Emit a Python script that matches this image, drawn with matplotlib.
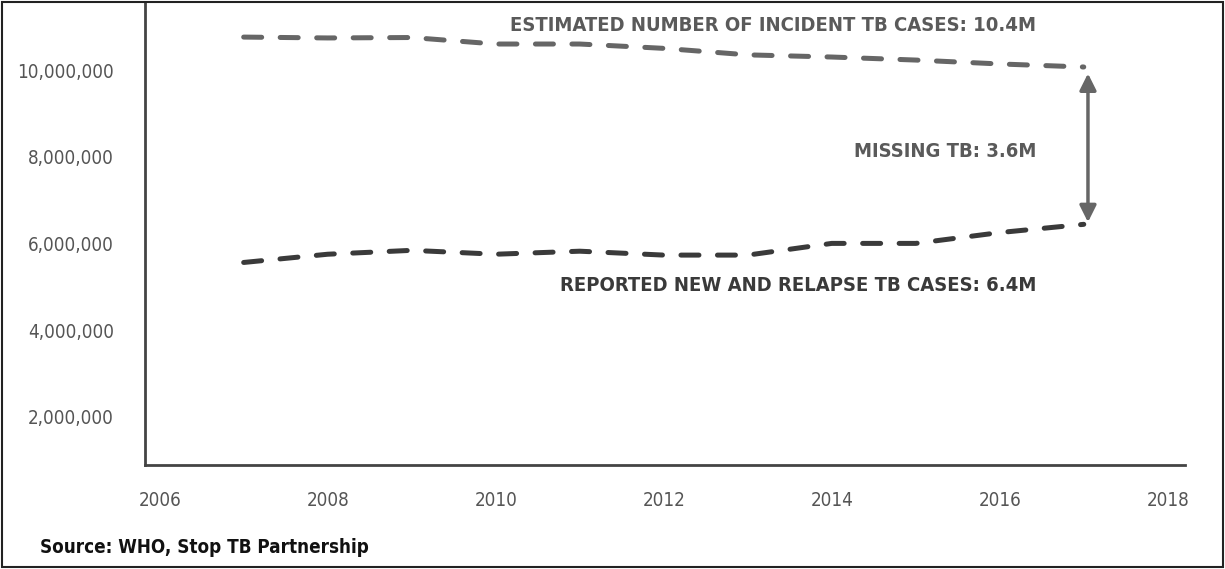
import numpy as np
import matplotlib.pyplot as plt
from matplotlib.patches import Rectangle

years = [2007, 2008, 2009, 2010, 2011, 2012, 2013, 2014, 2015, 2016, 2017]
estimated = [10760000, 10740000, 10750000, 10600000, 10600000, 10500000,
             10350000, 10300000, 10230000, 10140000, 10070000]
reported = [5560000, 5750000, 5840000, 5750000, 5820000, 5730000,
            5730000, 6000000, 6000000, 6250000, 6440000]
yticks = [2000000, 4000000, 6000000, 8000000, 10000000]
xticks = [2006, 2008, 2010, 2012, 2014, 2016, 2018]

fam = ['DejaVu Sans']

fig = plt.figure(figsize=(12.25, 5.69), dpi=100)
ax = fig.add_axes([0.118, 0.183, 0.849, 0.812])

ax.plot(years, estimated, color='#666666', lw=3.6, ls=(0, (3.6, 3.7)),
        dash_capstyle='round')
ax.plot(years, reported, color='#3a3a3a', lw=3.6, ls=(0, (3.6, 3.7)),
        dash_capstyle='round')

# gap arrow
ax.annotate('', xy=(2017.05, estimated[-1] - 150000), xytext=(2017.05, reported[-1] + 50000),
            arrowprops=dict(arrowstyle='<|-|>', color='#666666', lw=2.5,
                            mutation_scale=25, shrinkA=0, shrinkB=0))

kw = dict(ha='right', va='center', fontsize=14.5, fontweight='bold', family=fam,
          fontstretch='condensed')
ax.text(2016.43, 11030000, 'ESTIMATED NUMBER OF INCIDENT TB CASES: 10.4M',
        color='#5a5a5a', **kw)
ax.text(2016.43, 8130000, 'MISSING TB: 3.6M', color='#5a5a5a', **kw)
ax.text(2016.43, 5040000, 'REPORTED NEW AND RELAPSE TB CASES: 6.4M',
        color='#3a3a3a', **kw)

ax.set_xlim(2005.82, 2018.2)
ax.set_ylim(890000, 11550000)
ax.set_xticks(xticks)
ax.set_yticks(yticks)
ax.set_yticklabels([f'{v:,}' for v in yticks])
ax.tick_params(length=0, labelsize=13.5, labelcolor='#555555')
ax.tick_params(axis='y', pad=22)
ax.tick_params(axis='x', pad=19)
for lab in ax.get_xticklabels() + ax.get_yticklabels():
    lab.set_family(fam)
    lab.set_fontstretch('condensed')
for s in ['top', 'right']:
    ax.spines[s].set_visible(False)
for s in ['left', 'bottom']:
    ax.spines[s].set_color('#444444')
    ax.spines[s].set_linewidth(2)

fig.text(0.033, 0.037, 'Source: WHO, Stop TB Partnership', fontsize=13.5, fontweight='bold',
         color='#111111', family=fam, fontstretch='condensed', ha='left', va='center')

fig.patches.append(Rectangle((0.002, 0.003), 0.996, 0.994, transform=fig.transFigure,
                             fill=False, edgecolor='#222222', lw=1.5))

fig.savefig('out.png', dpi=100)
